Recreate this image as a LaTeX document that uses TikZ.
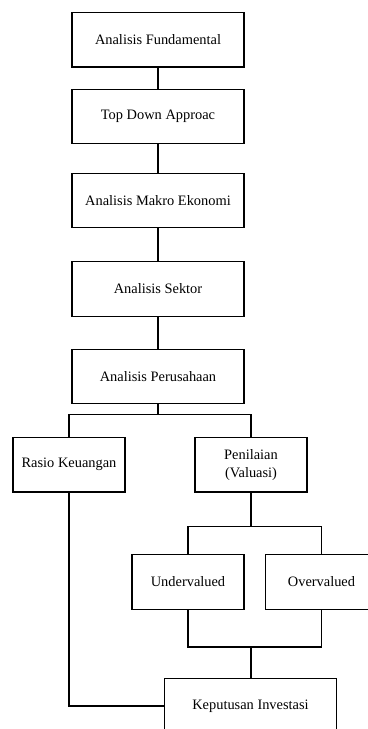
\documentclass[tikz,border=0pt]{standalone}
\usepackage{fontspec}
\setmainfont{Liberation Serif}
\usepackage{tikz}

\tikzset{
  kotak/.style={draw, line width=0.9pt, inner sep=0pt, align=center, minimum width=129pt, minimum height=41pt, font=\rmfamily\fontsize{10.8}{13.5}\selectfont},
  kotakkecil/.style={kotak, minimum width=84pt},
  garis/.style={line width=0.9pt}
}

\begin{document}
\begin{tikzpicture}[x=0.75pt,y=0.75pt,yscale=-1,xscale=1]
\useasboundingbox (0,0) rectangle (368,729);
\clip (0,0) rectangle (368,729);

% Text Node
\node [kotak] (fund) at (158,39.7) {Analisis Fundamental};
% Text Node
\node [kotak] (topdown) at (158,116.5) {Top Down Approac};
% Text Node
\node [kotak] (makro) at (158,200.5) {Analisis Makro Ekonomi};
% Text Node
\node [kotak] (sektor) at (158,289) {Analisis Sektor};
% Text Node
\node [kotak] (perus) at (158,376.5) {Analisis Perusahaan};
% Text Node
\node [kotakkecil] (rasio) at (69,464.7) {Rasio Keuangan};
% Text Node
\node [kotakkecil] (nilai) at (251,464.7) {Penilaian\\(Valuasi)};
% Text Node
\node [kotakkecil] (under) at (188,582) {Undervalued};
% Text Node
\node [kotakkecil] (over) at (321.5,582) {Overvalued};
% Text Node
\node [kotak] (keput) at (250.5,706) {Keputusan Investasi};

%Straight Lines
\draw [garis] (fund) -- (topdown);
\draw [garis] (topdown) -- (makro);
\draw [garis] (makro) -- (sektor);
\draw [garis] (sektor) -- (perus);

%Branch Lines
\coordinate (cabang1) at (158,414.3);
\draw [garis] (perus.south) -- (cabang1);
\draw [garis] (rasio.north) |- (cabang1) -| (nilai.north);
\coordinate (cabang2) at (251,526.7);
\draw [garis] (nilai.south) -- (cabang2);
\draw [garis] (under.north) |- (cabang2) -| (over.north);

%Merge Lines
\coordinate (gabung) at (251,647);
\draw [garis] (under.south) |- (gabung) -| (over.south);
\draw [garis] (gabung) -- (gabung |- keput.north);
\draw [garis] (rasio.south) |- (keput.west);

\end{tikzpicture}
\end{document}
